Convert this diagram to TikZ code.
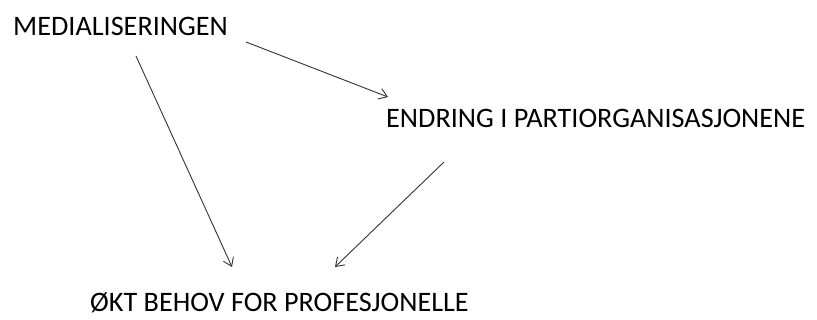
\documentclass[tikz,border=0pt]{standalone}
\usepackage{fontspec}
\setmainfont{Carlito}
\usetikzlibrary{arrows.meta}
\begin{document}
\begin{tikzpicture}[x=1pt,y=-1pt,
	tekst/.style={inner sep=0pt,anchor=base west,font=\fontsize{28.2}{34}\selectfont},
	pil/.style={draw=black!80,line width=0.9pt,-{Straight Barb[length=8pt,width=11pt]}}]
							\useasboundingbox (0,0) rectangle (817,320);
							\node[tekst] (med)  at (13,36)    {MEDIALISERINGEN};
							\node[tekst] (endr) at (386,128)  {ENDRING I PARTIORGANISASJONENE};
							\node[tekst] (okt)  at (90,312)   {ØKT BEHOV FOR PROFESJONELLE};
        					
							\draw[pil] ([shift={(233,6)}]med.base west)   -- ([shift={(2,-31)}]endr.base west);
							\draw[pil] ([shift={(123,20)}]med.base west)  -- ([shift={(142,-45)}]okt.base west);
							\draw[pil] ([shift={(58,34)}]endr.base west)  -- ([shift={(245,-45)}]okt.base west);
						\end{tikzpicture}
\end{document}
